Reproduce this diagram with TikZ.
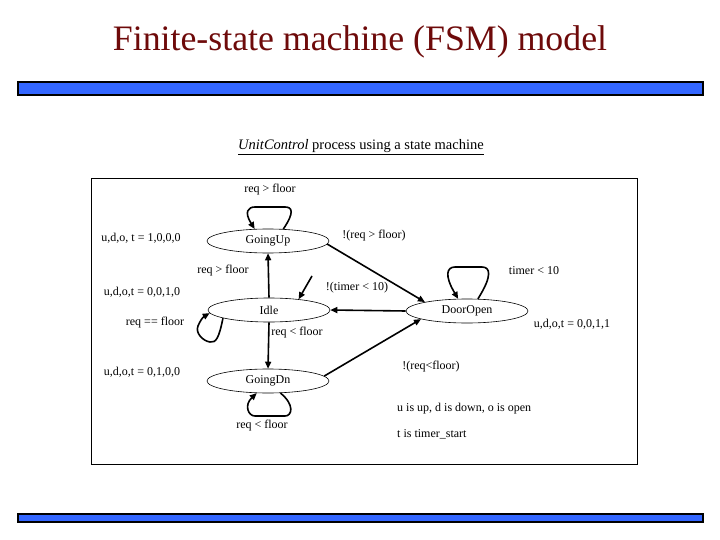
\documentclass[tikz,border=0pt]{standalone}
\usepackage{fontspec}
\setmainfont{Liberation Serif}
\usetikzlibrary{shapes.geometric,arrows.meta}
\definecolor{titlered}{RGB}{110,10,10}
\definecolor{barblue}{RGB}{51,102,255}
\begin{document}
\begin{tikzpicture}[x=1pt,y=-1pt,
 state/.style={ellipse,draw,line width=0.6pt,minimum width=122pt,minimum height=24pt,inner sep=0pt,font=\fontsize{12}{14}\selectfont},
 lbl/.style={inner sep=0pt,font=\fontsize{12}{14}\selectfont},
 edge/.style={line width=1.6pt,-{Triangle[length=7pt,width=6pt]}},
 bar/.style={draw=black,line width=1.5pt,fill=barblue}]
\useasboundingbox (0,0) rectangle (720,540);
% title and bars
\node[inner sep=0pt,text=titlered,font=\fontsize{35.8}{40}\selectfont] (title) at (360,42) {Finite-state machine (FSM) model};
\path[bar] (18,82) rectangle (703,95);
\path[bar] (18,514) rectangle (703,522);
\node[inner sep=0pt,font=\fontsize{14.5}{16}\selectfont] (sub) at (361,147) {\underline{\textit{UnitControl} process using a state machine}};
% frame
\draw[line width=0.8pt] (91,178) rectangle (637,464);
% states
\node[state] (gu) at (268,241) {GoingUp};
\node[state] (idle) at (269,310) {Idle};
\node[state] (do) at (467,311) {DoorOpen};
\node[state] (gd) at (268,381) {GoingDn};
% transitions
\draw[edge] (idle.north) -- (gu.south);
\draw[edge] (idle.south) -- (gd.south |- gd.north);
\draw[edge] (gu.-3) -- (do.168);
\draw[edge] (do.west) -- (idle.east);
\draw[edge] (gd.5) -- (do.-170);
\draw[edge] (gu.38) .. controls (295,212) and (292,207) .. (285,207) -- (255,207) .. controls (248,207) and (244,212) .. (gu.138);
\draw[edge] (do.48) .. controls (493,275) and (490,267) .. (482,267) -- (455,267) .. controls (447,267) and (444,275) .. (do.126);
\draw[edge] (gd.-44) .. controls (295,405) and (292,416) .. (285,416) -- (255,416) .. controls (248,416) and (244,405) .. (gd.-133);
\draw[edge] (idle.-170) .. controls (219,338) and (216,343) .. (210,342) .. controls (203,341) and (195,333) .. (198,326) .. controls (200,321) and (203,317) .. (idle.-177);
\coordinate (init) at (312,276);
\draw[edge] (init) -- (idle.20);
% labels
\node[lbl] (l1) at (270,190) {req > floor};
\node[lbl] (l2) at (141,238) {u,d,o, t = 1,0,0,0};
\node[lbl] (l3) at (374,236) {!(req > floor)};
\node[lbl] (l4) at (223,271) {req > floor};
\node[lbl] (l5) at (534,271) {timer < 10};
\node[lbl] (l6) at (142,292) {u,d,o,t = 0,0,1,0};
\node[lbl] (l7) at (357,288) {!(timer < 10)};
\node[lbl] (l8) at (155,323) {req == floor};
\node[lbl] (l9) at (297,333) {req < floor};
\node[lbl] (l10) at (572,324) {u,d,o,t = 0,0,1,1};
\node[lbl] (l11) at (142,372) {u,d,o,t = 0,1,0,0};
\node[lbl] (l12) at (431,367) {!(req<floor)};
\node[lbl,anchor=west] (l13) at (397,409) {u is up, d is down, o is open};
\node[lbl,anchor=west] (l14) at (397,434) {t is timer\_start};
\node[lbl] (l15) at (262,426) {req < floor};
\end{tikzpicture}
\end{document}
